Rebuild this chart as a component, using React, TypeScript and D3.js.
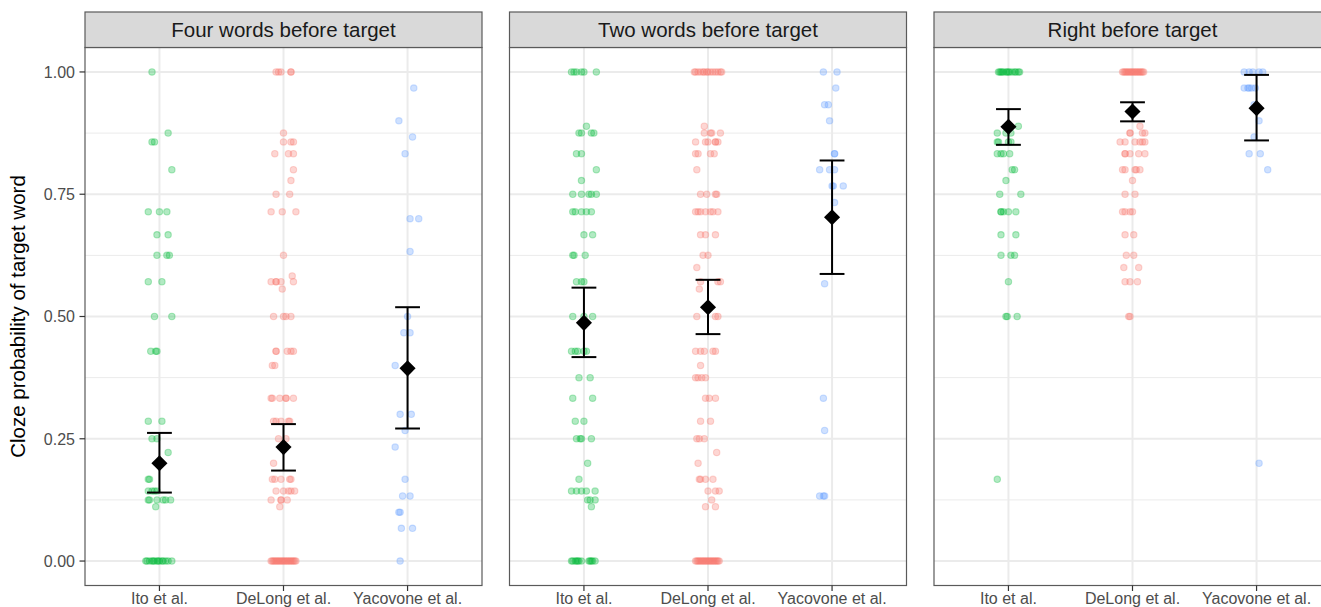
import React, { useEffect, useRef } from "react";
import * as d3 from "d3";

// Facets and studies
const panels = ["Four words before target", "Two words before target", "Right before target"];
const studies = ["Ito et al.", "DeLong et al.", "Yacovone et al."];
const studyColors = ["#00BA38", "#F8766D", "#619CFF"];

// Mean cloze and 95% CI per panel (rows) and study (columns)
const means = [
  [0.2, 0.233, 0.394],
  [0.487, 0.519, 0.703],
  [0.888, 0.919, 0.926],
];
const ciLow = [
  [0.14, 0.185, 0.271],
  [0.417, 0.464, 0.587],
  [0.851, 0.899, 0.86],
];
const ciHigh = [
  [0.262, 0.28, 0.519],
  [0.559, 0.575, 0.819],
  [0.924, 0.938, 0.994],
];

// Item-level cloze values: [value, jitter of each item in % of a category step]
type Row = [number, number[]];

const fourIto: Row[] = [
  [1.0, [-6]], [0.875, [7]], [0.857, [-6, -4]], [0.8, [10]], [0.714, [-9, 0, 6]],
  [0.667, [-2, 7]], [0.625, [-2, 6, 8]], [0.571, [-9, 2]], [0.5, [-4, 10]],
  [0.429, [-7, -3, -2]], [0.286, [-9, 2]], [0.25, [-6, -2]], [0.222, [7]],
  [0.167, [-9, -8]], [0.143, [-9, -6, -4, -2]], [0.125, [-9, -8, -2, 3, 5, 9]],
  [0.111, [-3]], [0.0, [-11, -10, -8, -6, -5, -4, -2, -1, 0, 2, 3, 5, 7, 10]],
];
const fourDeLong: Row[] = [
  [1.0, [-6, -4, -2, 6, 6]], [0.875, [0]], [0.857, [0, 6, 8]], [0.833, [-7, 4, 8]],
  [0.8, [8]], [0.778, [6]], [0.75, [-6, 5]], [0.714, [-10, -1, 10]], [0.625, [0]],
  [0.583, [7]], [0.571, [-10, -6, -6, -2, 8]], [0.556, [-1]], [0.5, [-8, 0, 2, 6]],
  [0.429, [-6, -6, 3, 6, 8]], [0.4, [-9, -7]], [0.333, [-10, -9, -3, 2, 2, 8]],
  [0.286, [-8, -6, -2, 4, 5]], [0.25, [-4, 2]], [0.2, [-8]], [0.167, [-9, -7, -2, 5, 6]],
  [0.143, [-6, 0, 4, 6, 9]], [0.125, [-10, -2, -2, 3]], [0.111, [-3]],
  [0.0, [-10, -9, -8, -7, -6, -5, -4, -3, -2, -1, 0, 1, 2, 3, 4, 5, 6, 7, 8, 9, 10]],
];
const fourYacovone: Row[] = [
  [0.967, [5]], [0.9, [-7]], [0.867, [4]], [0.833, [-2]], [0.7, [2, 9]], [0.633, [2]],
  [0.5, [0]], [0.467, [-3, 2]], [0.4, [-10]], [0.3, [-6, 3]], [0.267, [-2]],
  [0.233, [-10]], [0.167, [-2]], [0.133, [-4, 2]], [0.1, [-7, -6]], [0.067, [-5, 4]],
  [0.0, [-6]],
];

const twoIto: Row[] = [
  [1.0, [-10, -8, -6, -2, 0, 10]], [0.889, [2]], [0.875, [-4, -2, 6, 8]], [0.833, [-6, -2]],
  [0.8, [10]], [0.778, [-2]], [0.75, [-9, -2, 4, 6, 10]], [0.714, [-9, -7, -2, 2, 6]],
  [0.667, [0, 7]], [0.625, [-9, -8, 1]], [0.571, [-6, -2, 0]], [0.5, [-9, 0, 7]],
  [0.429, [-10, -7, -5, 0, 2]], [0.375, [-4, 5]], [0.333, [-9, 7]], [0.286, [-7, 0]],
  [0.25, [-6, -3, -2, 6]], [0.2, [3]], [0.167, [-4]], [0.143, [-10, -6, -2, 2, 9]],
  [0.125, [3, 5, 9]], [0.111, [6]], [0.0, [-10, -9, -7, -6, -5, -4, -2, 4, 5, 6, 7, 9]],
];
const twoDeLong: Row[] = [
  [1.0, [-11, -10, -8, -6, -4, -3, -1, 0, 2, 4, 6, 8, 10, 11]], [0.889, [-3]],
  [0.875, [-3, 2, 3, 10]], [0.857, [-10, -2, 0, 6, 6, 8]], [0.833, [-10, -8, 2, 5]],
  [0.8, [-9]], [0.75, [-6, -1, 6, 7]], [0.714, [-10, -8, -6, -2, 2, 4, 8]],
  [0.667, [-6, -2, 6]], [0.625, [-4, 0]], [0.6, [-9]], [0.571, [-6, 8, 10]], [0.556, [-7]],
  [0.5, [-9, 6, 8]], [0.429, [-10, -6, -3, 4, 6]], [0.4, [-6]], [0.375, [-10, -8, -5, -2]],
  [0.333, [-2, 1, 6]], [0.286, [-6, 2]], [0.25, [-9, -7, -3]], [0.222, [7]], [0.2, [-8]],
  [0.167, [-7, -6, -2, 4]], [0.143, [0, 6, 9]], [0.125, [3]], [0.111, [-2, 6]],
  [0.0, [-10, -9, -8, -7, -6, -5, -4, -3, -2, -1, 0, 1, 2, 3, 4, 5, 6, 7, 8, 9]],
];
const twoYacovone: Row[] = [
  [1.0, [-7, 4]], [0.967, [3]], [0.933, [-6, -3]], [0.9, [-2]], [0.833, [2, 2]],
  [0.8, [-10, -2, 2]], [0.767, [0, 1, 9]], [0.733, [2]], [0.567, [-6]], [0.333, [-7]],
  [0.267, [-6]], [0.133, [-10, -7, -6]],
];

const rightIto: Row[] = [
  [1.0, [-8, -7, -6, -5, -4, -2, -1, 0, 1, 3, 5, 6, 8, 9]], [0.889, [8]],
  [0.875, [-9, -2, 2]], [0.857, [-9, -8, 0, 2]], [0.833, [-9, -6, -4, 1]], [0.8, [3, 5]],
  [0.778, [-2]], [0.75, [-7, 10]], [0.714, [-6, -6, -4, 0, 6]], [0.667, [-6, 6]],
  [0.625, [-6, 2, 5]], [0.571, [0]], [0.5, [-2, -1, 7]], [0.167, [-9]],
];
const rightDeLong: Row[] = [
  [1.0, [-8, -7, -6, -5, -4, -3, -2, -1, 0, 1, 2, 3, 4, 5, 6, 7, 8, 9]], [0.889, [6]],
  [0.875, [-2, -2, 8, 10]], [0.857, [-10, -6, 2, 6, 8, 10]], [0.833, [-6, -6, -2, 5, 10]],
  [0.8, [-8, -6, 2, 3, 6]], [0.778, [0]], [0.75, [-6, 2]], [0.714, [-8, -6, -2, 0]],
  [0.667, [-6, 1]], [0.625, [-5, 1]], [0.6, [-7, 5]], [0.571, [-6, -2, 4]], [0.5, [-3, -2]],
];
const rightYacovone: Row[] = [
  [1.0, [-10, -6, -3, 2, 5]], [0.967, [-10, -7, -6, -4, -1]], [0.933, [-2]], [0.9, [2]],
  [0.867, [-2]], [0.833, [-6, 3]], [0.8, [9]], [0.2, [2]],
];

const items: Row[][][] = [
  [fourIto, fourDeLong, fourYacovone],
  [twoIto, twoDeLong, twoYacovone],
  [rightIto, rightDeLong, rightYacovone],
];

const yTicks = [0, 0.25, 0.5, 0.75, 1];
const yMinor = [0.125, 0.375, 0.625, 0.875];

const FONT = "'Liberation Sans', Arial, Helvetica, sans-serif";

const App = () => {
  const ref = useRef<SVGSVGElement>(null);

  useEffect(() => {
    const width = 1321;
    const height = 607;
    const stripTop = 12;
    const panelTop = 47.5;
    const panelBottom = 585.5;
    const panelLeft = 85;
    const panelW = 397;
    const gap = 27.5;

    const svg = d3.select(ref.current).attr("width", width).attr("height", height);
    svg.selectAll("*").remove();
    svg.append("rect").attr("width", width).attr("height", height).attr("fill", "#fff");

    const y = d3.scaleLinear().domain([-0.05, 1.05]).range([panelBottom, panelTop]);

    panels.forEach((title, p) => {
      const x0 = panelLeft + p * (panelW + gap);
      const x = d3.scalePoint<string>().domain(studies).range([x0, x0 + panelW]).padding(0.6);
      const step = x.step();
      const g = svg.append("g");

      // grid
      g.selectAll(".minor")
        .data(yMinor)
        .enter()
        .append("line")
        .attr("x1", x0)
        .attr("x2", x0 + panelW)
        .attr("y1", (d) => y(d))
        .attr("y2", (d) => y(d))
        .attr("stroke", "#EBEBEB")
        .attr("stroke-width", 1);
      g.selectAll(".major")
        .data(yTicks)
        .enter()
        .append("line")
        .attr("x1", x0)
        .attr("x2", x0 + panelW)
        .attr("y1", (d) => y(d))
        .attr("y2", (d) => y(d))
        .attr("stroke", "#EBEBEB")
        .attr("stroke-width", 2);
      g.selectAll(".vmajor")
        .data(studies)
        .enter()
        .append("line")
        .attr("x1", (d) => x(d)!)
        .attr("x2", (d) => x(d)!)
        .attr("y1", panelTop)
        .attr("y2", panelBottom)
        .attr("stroke", "#EBEBEB")
        .attr("stroke-width", 2);

      // jittered items
      studies.forEach((s, si) => {
        const pts = items[p][si].flatMap(([v, js]) => js.map((j) => ({ v, j })));
        g.append("g")
          .selectAll("circle")
          .data(pts)
          .enter()
          .append("circle")
          .attr("cx", (d) => x(s)! + (d.j / 100) * step)
          .attr("cy", (d) => y(d.v))
          .attr("r", 3.2)
          .attr("fill", studyColors[si])
          .attr("fill-opacity", 0.3)
          .attr("stroke", studyColors[si])
          .attr("stroke-opacity", 0.3)
          .attr("stroke-width", 1.1);
      });

      // error bars and means
      const summary = studies.map((s, si) => ({
        s,
        m: means[p][si],
        lo: ciLow[p][si],
        hi: ciHigh[p][si],
      }));
      const half = 0.1 * step;
      summary.forEach((d) => {
        const cx = x(d.s)!;
        const eb = g.append("g").attr("stroke", "#000").attr("stroke-width", 2);
        eb.append("line").attr("x1", cx).attr("x2", cx).attr("y1", y(d.lo)).attr("y2", y(d.hi));
        eb.append("line").attr("x1", cx - half).attr("x2", cx + half).attr("y1", y(d.lo)).attr("y2", y(d.lo));
        eb.append("line").attr("x1", cx - half).attr("x2", cx + half).attr("y1", y(d.hi)).attr("y2", y(d.hi));
      });
      g.selectAll(".mean")
        .data(summary)
        .enter()
        .append("path")
        .attr("d", d3.symbol().type(d3.symbolDiamond2).size(165)())
        .attr("transform", (d) => `translate(${x(d.s)},${y(d.m)})`)
        .attr("fill", "#000");

      // panel border
      g.append("rect")
        .attr("x", x0)
        .attr("y", panelTop)
        .attr("width", panelW)
        .attr("height", panelBottom - panelTop)
        .attr("fill", "none")
        .attr("stroke", "#5a5a5a")
        .attr("stroke-width", 1.2);

      // strip
      g.append("rect")
        .attr("x", x0)
        .attr("y", stripTop)
        .attr("width", panelW)
        .attr("height", panelTop - stripTop)
        .attr("fill", "#D9D9D9")
        .attr("stroke", "#5a5a5a")
        .attr("stroke-width", 1.2);
      g.append("text")
        .attr("x", x0 + panelW / 2)
        .attr("y", 37.3)
        .attr("text-anchor", "middle")
        .attr("font-family", FONT)
        .attr("font-size", 20.5)
        .attr("fill", "#1A1A1A")
        .text(title);

      // x axis
      const xa = g.append("g");
      xa.selectAll("line")
        .data(studies)
        .enter()
        .append("line")
        .attr("x1", (d) => x(d)!)
        .attr("x2", (d) => x(d)!)
        .attr("y1", panelBottom)
        .attr("y2", panelBottom + 5.5)
        .attr("stroke", "#333")
        .attr("stroke-width", 1.2);
      xa.selectAll("text")
        .data(studies)
        .enter()
        .append("text")
        .attr("x", (d) => x(d)!)
        .attr("y", 603.5)
        .attr("text-anchor", "middle")
        .attr("font-family", FONT)
        .attr("font-size", 16)
        .attr("fill", "#4D4D4D")
        .text((d) => d);
    });

    // y axis
    const ya = svg.append("g");
    ya.selectAll("line")
      .data(yTicks)
      .enter()
      .append("line")
      .attr("x1", panelLeft - 5.5)
      .attr("x2", panelLeft)
      .attr("y1", (d) => y(d))
      .attr("y2", (d) => y(d))
      .attr("stroke", "#333")
      .attr("stroke-width", 1.2);
    ya.selectAll("text")
      .data(yTicks)
      .enter()
      .append("text")
      .attr("x", panelLeft - 10)
      .attr("y", (d) => y(d))
      .attr("dy", "0.36em")
      .attr("text-anchor", "end")
      .attr("font-family", FONT)
      .attr("font-size", 16)
      .attr("fill", "#4D4D4D")
      .text((d) => d3.format(".2f")(d));

    svg
      .append("text")
      .attr("transform", `translate(25,${(panelTop + panelBottom) / 2}) rotate(-90)`)
      .attr("text-anchor", "middle")
      .attr("font-family", FONT)
      .attr("font-size", 20.5)
      .attr("fill", "#000")
      .text("Cloze probability of target word");
  }, []);

  return <svg ref={ref} style={{ position: "absolute", left: 0, top: 0, display: "block" }} />;
};

export default App;
